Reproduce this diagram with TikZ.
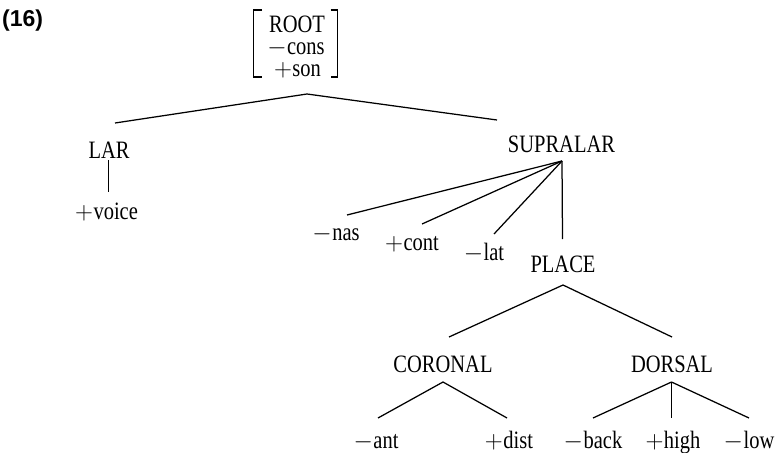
\documentclass[tikz,border=0pt]{standalone}
\usepackage{fontspec}
\setmainfont{Liberation Serif}[FakeStretch=0.82]
\newfontfamily\labelfont{Liberation Sans}
\usetikzlibrary{calc}
\newcommand{\fmin}{\mbox{$-$}\kern0.5pt}
\newcommand{\fplus}{\mbox{$+$}\kern0.5pt}
\begin{document}
\begin{tikzpicture}[x=1pt,y=-1pt,
  lbl/.style={anchor=base,inner sep=0pt,font=\fontsize{25}{27}\selectfont},
  mline/.style={lbl,text height=15pt,text depth=0pt},
  edge/.style={line width=1.25pt},
  brk/.style={line width=1.8pt}]
\useasboundingbox (0,0) rectangle (778,452);
% example number
\node[anchor=base west,inner sep=0pt,font=\labelfont\bfseries\fontsize{23}{25}\selectfont] (num) at (2,27) {(16)};
% root matrix
\node[mline] (root1) at (297,33) {ROOT};
\node[mline] (root2) at (296,55) {\fmin cons};
\node[mline] (root3) at (297.5,76) {\fplus son};
\draw[brk] (262,10) -- (253.5,10) -- (253.5,77) -- (262,77);
\draw[brk] (330.5,10) -- (337.5,10) -- (337.5,77) -- (330.5,77);
% nodes
\node[lbl] (lar) at (109,158) {LAR};
\node[lbl] (voice) at (106.5,219) {\fplus voice};
\node[lbl] (supralar) at (561.5,152) {SUPRALAR};
\node[lbl] (nas) at (336,240) {\fmin nas};
\node[lbl] (cont) at (412,250) {\fplus cont};
\node[lbl] (lat) at (484,260) {\fmin lat};
\node[lbl] (place) at (563,272) {PLACE};
\node[lbl] (coronal) at (443,372) {CORONAL};
\node[lbl] (dorsal) at (672,372) {DORSAL};
\node[lbl] (ant) at (376,448) {\fmin ant};
\node[lbl] (dist) at (509,448) {\fplus dist};
\node[lbl] (back) at (593,448) {\fmin back};
\node[lbl] (high) at (673,448) {\fplus high};
\node[lbl] (low) at (749,448) {\fmin low};
% connectors
\draw[edge] ($(lar.base)+(6,-35)$) -- ($(root3.base)+(9.5,18)$) -- ($(supralar.base)+(-64.5,-32)$);
\draw[edge] ($(lar.base)+(-0.5,2)$) -- ($(voice.base)+(2,-27)$);
\coordinate (supA) at ($(supralar.base)+(0.5,9)$);
\draw[edge] (supA) -- ($(nas.base)+(11,-25)$);
\draw[edge] (supA) -- ($(cont.base)+(10,-26)$);
\draw[edge] (supA) -- ($(lat.base)+(10,-26)$);
\draw[edge] (supA) -- ($(place.base)+(-0.5,-33)$);
\draw[edge] ($(coronal.base)+(6,-35)$) -- ($(place.base)+(0,13)$) -- ($(dorsal.base)+(0,-35)$);
\draw[edge] ($(ant.base)+(2,-30)$) -- ($(coronal.base)+(0,10)$) -- ($(dist.base)+(-2,-30)$);
\coordinate (dorA) at ($(dorsal.base)+(-0.5,10)$);
\draw[edge] (dorA) -- ($(back.base)+(0,-30)$);
\draw[edge] (dorA) -- ($(high.base)+(-1.5,-30)$);
\draw[edge] (dorA) -- ($(low.base)+(0,-30)$);
\end{tikzpicture}
\end{document}
